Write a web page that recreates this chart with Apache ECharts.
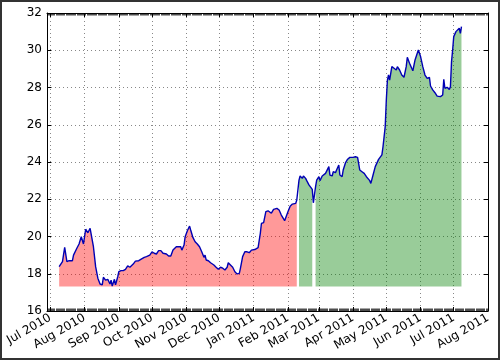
<!DOCTYPE html>
<html>
<head>
<meta charset="utf-8">
<script src="https://cdn.jsdelivr.net/npm/echarts@6/dist/echarts.min.js"></script>
<style>
html,body{margin:0;padding:0;background:#fff;}
#chart{width:500px;height:360px;}
</style>
</head>
<body>
<div id="chart"></div>
<script>
const dates = [
'2010-07-09','2010-07-12','2010-07-14','2010-07-16','2010-07-18','2010-07-21','2010-07-22','2010-07-25','2010-07-27','2010-07-29',
'2010-07-31','2010-08-02','2010-08-04','2010-08-06','2010-08-09','2010-08-11','2010-08-13','2010-08-15','2010-08-17','2010-08-18',
'2010-08-20','2010-08-22','2010-08-24','2010-08-25','2010-08-26','2010-08-28','2010-08-29','2010-08-31','2010-09-01','2010-09-03',
'2010-09-05','2010-09-07','2010-09-09','2010-09-11','2010-09-14','2010-09-16','2010-09-19','2010-09-22','2010-09-24','2010-09-26',
'2010-09-29','2010-10-01','2010-10-03','2010-10-05','2010-10-07','2010-10-09','2010-10-11','2010-10-14','2010-10-16','2010-10-18',
'2010-10-20','2010-10-23','2010-10-24','2010-10-27','2010-10-28','2010-10-30','2010-10-31','2010-11-02','2010-11-04','2010-11-05',
'2010-11-07','2010-11-09','2010-11-11','2010-11-13','2010-11-15','2010-11-17','2010-11-18','2010-11-19','2010-11-21','2010-11-23',
'2010-11-26','2010-11-28','2010-11-30','2010-12-02','2010-12-04','2010-12-06','2010-12-08','2010-12-09','2010-12-11','2010-12-13',
'2010-12-15','2010-12-17','2010-12-19','2010-12-20','2010-12-22','2010-12-24','2010-12-26','2010-12-28','2010-12-30','2011-01-02',
'2011-01-05','2011-01-07','2011-01-08','2011-01-10','2011-01-12','2011-01-14','2011-01-17','2011-01-19','2011-01-22','2011-01-24',
'2011-01-26','2011-01-29','2011-01-30','2011-02-01','2011-02-03','2011-02-05','2011-02-08','2011-02-09','2011-02-11','2011-02-12',
'2011-02-14','2011-02-15','2011-02-17','2011-02-18','2011-02-20','2011-02-21','2011-02-23','2011-02-24','2011-02-26','2011-02-27',
'2011-03-01','2011-03-02','2011-03-04','2011-03-05','2011-03-07','2011-03-08','2011-03-10','2011-03-11','2011-03-13','2011-03-14',
'2011-03-16','2011-03-17','2011-03-19','2011-03-20','2011-03-22','2011-03-23','2011-03-25','2011-03-27','2011-03-29','2011-04-01',
'2011-04-03','2011-04-05','2011-04-07','2011-04-09','2011-04-11','2011-04-13','2011-04-16','2011-04-17','2011-04-19','2011-04-21',
'2011-04-24','2011-04-27','2011-04-28','2011-04-30','2011-05-01','2011-05-02','2011-05-03','2011-05-04','2011-05-06','2011-05-08',
'2011-05-10','2011-05-11','2011-05-13','2011-05-15','2011-05-17','2011-05-19','2011-05-20','2011-05-22','2011-05-24','2011-05-25',
'2011-05-27','2011-05-29','2011-05-30','2011-06-01','2011-06-03','2011-06-05','2011-06-07','2011-06-09','2011-06-10','2011-06-12',
'2011-06-14','2011-06-16','2011-06-19','2011-06-21','2011-06-22','2011-06-23','2011-06-25','2011-06-27','2011-06-28','2011-06-29',
'2011-06-30','2011-07-01','2011-07-03','2011-07-04','2011-07-06','2011-07-07','2011-07-08'
];
const prices = [
18.38,18.65,19.42,18.65,18.70,18.70,19.00,19.37,19.60,19.99,
19.60,20.39,20.20,20.44,19.45,18.38,17.76,17.45,17.40,17.81,
17.66,17.70,17.45,17.66,17.34,17.70,17.40,17.84,18.11,18.17,
18.17,18.24,18.42,18.35,18.52,18.68,18.70,18.81,18.88,18.92,
19.00,19.18,19.10,19.06,19.24,19.24,19.10,19.06,18.95,18.95,
19.27,19.45,19.37,19.45,19.27,19.54,19.99,20.31,20.56,20.35,
19.95,19.72,19.60,19.45,19.18,18.88,19.00,18.74,18.70,18.59,
18.47,18.35,18.24,18.35,18.30,18.20,18.35,18.59,18.47,18.35,
18.11,17.99,18.02,18.29,18.92,19.18,19.18,19.13,19.27,19.30,
19.40,20.17,20.70,20.75,21.33,21.38,21.25,21.46,21.51,21.42,
21.15,20.85,20.92,21.33,21.63,21.74,21.78,21.96,23.03,23.25,
23.12,23.25,23.12,23.00,22.77,22.86,22.53,21.81,22.68,23.03,
23.21,23.00,23.25,23.21,23.39,23.30,23.75,23.30,23.25,23.48,
23.43,23.57,23.84,23.30,23.21,23.57,23.95,24.15,24.25,24.25,
24.28,24.25,23.57,23.48,23.39,23.21,23.00,22.85,23.30,23.75,
24.14,24.38,24.82,25.90,27.33,28.40,28.67,28.40,29.12,29.03,
28.94,29.12,28.94,28.67,28.55,29.12,29.62,29.30,29.03,28.90,
29.48,29.84,30.01,29.66,29.12,28.67,28.49,28.55,28.08,27.87,
27.72,27.54,27.51,27.60,28.44,27.96,28.01,27.90,28.04,29.39,
30.01,30.73,31.00,30.91,31.18,30.91,31.27
];
const threshold = 22;
const fillBase = 17.32;
const monthNames = ['Jan','Feb','Mar','Apr','May','Jun','Jul','Aug','Sep','Oct','Nov','Dec'];
const xMin = '2010-06-28';
const xMax = '2011-08-01';

const lineData = dates.map((d, i) => [d, prices[i]]);
const redData = dates.map((d, i) => [d, prices[i] < threshold ? prices[i] : '-']);
const greenData = dates.map((d, i) => [d, prices[i] >= threshold ? prices[i] : '-']);

const chart = echarts.init(document.getElementById('chart'), null, {renderer: 'canvas'});
const fontFamily = 'DejaVu Sans';
const DAY = 86400000;
const minMs = new Date(xMin + 'T00:00:00').getTime();
const maxMs = new Date(xMax + 'T00:00:00').getTime();
const timeAxisBase = {
  type: 'time',
  min: xMin,
  max: xMax,
  minInterval: 28 * DAY,
  maxInterval: 31 * DAY,
  axisLine: {show: true, lineStyle: {color: '#000', width: 1}},
  axisTick: {show: true, inside: true, length: 4, lineStyle: {color: '#000'}}
};
const dayTickAxis = function (pos) {
  return {
    type: 'value', position: pos, min: minMs, max: maxMs, interval: DAY,
    axisLine: {show: false},
    axisTick: {show: true, inside: true, length: 2.5, lineStyle: {color: '#000', width: 0.7}},
    axisLabel: {show: false},
    splitLine: {show: false}
  };
};
const option = {
  animation: false,
  backgroundColor: '#fff',
  grid: {left: 47, right: 12, top: 13, bottom: 49, containLabel: false},
  xAxis: [
    Object.assign({}, timeAxisBase, {
      position: 'bottom',
      axisLabel: {
        show: true, rotate: 30, fontSize: 12, color: '#000', fontFamily: fontFamily, margin: 6,
        showMinLabel: false, showMaxLabel: true, hideOverlap: false,
        formatter: function (v) { const d = new Date(v); return monthNames[d.getMonth()] + ' ' + d.getFullYear(); }
      },
      splitLine: {show: true, lineStyle: {color: '#888', type: [1, 3], width: 1}}
    }),
    Object.assign({}, timeAxisBase, {
      position: 'top',
      axisLabel: {show: false},
      splitLine: {show: false}
    }),
    dayTickAxis('bottom'),
    dayTickAxis('top')
  ],
  yAxis: [
    {
      type: 'value', min: 16, max: 32, interval: 2, position: 'left',
      axisLine: {show: true, lineStyle: {color: '#000', width: 1}},
      axisTick: {show: true, inside: true, length: 4, lineStyle: {color: '#000'}},
      axisLabel: {fontSize: 12, color: '#000', fontFamily: fontFamily, margin: 5},
      splitLine: {show: true, lineStyle: {color: '#888', type: [1, 3], width: 1}}
    },
    {
      type: 'value', min: 16, max: 32, interval: 2, position: 'right',
      axisLine: {show: true, lineStyle: {color: '#000', width: 1}},
      axisTick: {show: true, inside: true, length: 4, lineStyle: {color: '#000'}},
      axisLabel: {show: false},
      splitLine: {show: false}
    }
  ],
  graphic: [{
    type: 'rect', shape: {x: 1, y: 1, width: 498, height: 358},
    style: {fill: 'none', stroke: '#333', lineWidth: 2}, silent: true, z: 100
  }],
  series: [
    {
      name: 'below', type: 'line', data: redData, showSymbol: false, symbol: 'none',
      connectNulls: false,
      lineStyle: {width: 0, opacity: 0},
      areaStyle: {color: '#ff0000', opacity: 0.4, origin: fillBase},
      z: 2
    },
    {
      name: 'above', type: 'line', data: greenData, showSymbol: false, symbol: 'none',
      connectNulls: false,
      lineStyle: {width: 0, opacity: 0},
      areaStyle: {color: '#008000', opacity: 0.4, origin: fillBase},
      z: 2
    },
    {
      name: 'price', type: 'line', data: lineData, showSymbol: false, symbol: 'none',
      lineStyle: {color: '#0000b4', width: 1.4},
      z: 3
    },
    {type: 'line', xAxisIndex: 1, yAxisIndex: 1, data: [], silent: true},
    {type: 'line', xAxisIndex: 2, yAxisIndex: 0, data: [], silent: true},
    {type: 'line', xAxisIndex: 3, yAxisIndex: 0, data: [], silent: true}
  ]
};
chart.setOption(option);
</script>
</body>
</html>
